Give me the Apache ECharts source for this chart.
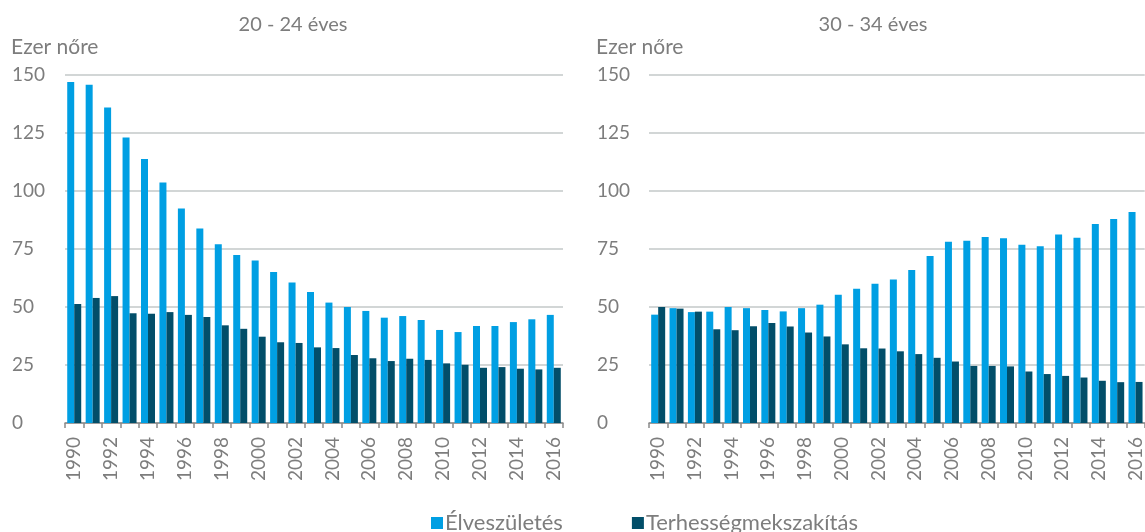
<!DOCTYPE html>
<html>
<head>
<meta charset="utf-8">
<script src="https://cdn.jsdelivr.net/npm/echarts@6/dist/echarts.min.js"></script>
<style>
	html, body { margin: 0; padding: 0; background: #fff; }
	#chart { width: 1145px; height: 532px; }
</style>
</head>
<body>
<div id="chart"></div>
<script>
const years = ['1990', '1991', '1992', '1993', '1994', '1995', '1996', '1997', '1998', '1999',
	'2000', '2001', '2002', '2003', '2004', '2005', '2006', '2007', '2008', '2009',
	'2010', '2011', '2012', '2013', '2014', '2015', '2016'];

// 20 - 24 éves
const births2024 = [147, 145.8, 136, 123.1, 113.8, 103.7, 92.5, 83.8, 77, 72.4,
	70, 65.1, 60.6, 56.5, 51.9, 50, 48.3, 45.4, 46.1, 44.4,
	40.1, 39.2, 41.8, 41.8, 43.5, 44.7, 46.6];
const abortions2024 = [51.3, 53.9, 54.7, 47.3, 47.1, 47.8, 46.6, 45.7, 42.1, 40.6,
	37.2, 34.8, 34.5, 32.6, 32.3, 29.3, 27.9, 26.7, 27.7, 27.2,
	25.7, 25.1, 23.8, 24.1, 23.4, 23.1, 23.8];

// 30 - 34 éves
const births3034 = [46.7, 49.5, 47.8, 48, 50, 49.5, 48.7, 48.1, 49.5, 51,
	55.3, 57.9, 60, 61.8, 66, 72, 78.1, 78.6, 80.2, 79.6,
	76.8, 76.2, 81.2, 79.9, 85.8, 87.9, 91];
const abortions3034 = [50, 49.3, 48, 40.4, 40, 41.7, 43.1, 41.6, 39, 37.3,
	33.9, 32.2, 32.1, 30.9, 29.7, 28.1, 26.5, 24.6, 24.6, 24.4,
	22.2, 21.1, 20.3, 19.6, 18.2, 17.6, 17.7];

const seriesNames = ['Élveszületés', 'Terhességmekszakítás'];
const panelTitles = ['20 - 24 éves', '30 - 34 éves'];
const unitLabel = 'Ezer nőre';

const FONT = 'Lato, "Noto Sans", sans-serif';
const GREY = '#7d7d7d';
const LIGHT = '#009fe3';
const DARK = '#024e69';

const chart = echarts.init(document.getElementById('chart'), null, { renderer: 'canvas' });

// title padding is 5px, so titles sit 5px left of where the text begins
const panels = [
	{ left: 65, title: 288, unit: 12 },
	{ left: 649, title: 868, unit: 597 }
];

const xAxis = panels.map((p, i) => ({
	type: 'category',
	gridIndex: i,
	data: years,
	axisLine: { lineStyle: { color: '#8a8a8a', width: 1.5 } },
	axisTick: { show: true, interval: 0, length: 5, lineStyle: { color: '#8a8a8a', width: 1.5 } },
	axisLabel: { interval: 1, rotate: 90, margin: 14, color: GREY, fontFamily: FONT, fontSize: 19 }
}));

const yAxis = panels.map((p, i) => ({
	type: 'value',
	gridIndex: i,
	min: 0,
	max: 150,
	interval: 25,
	axisLine: { show: false },
	axisTick: { show: false },
	axisLabel: { align: 'left', margin: p.left - p.unit, padding: [3, 0, 0, 0], color: GREY, fontFamily: FONT, fontSize: 19 },
	splitLine: { lineStyle: { color: '#c3c8c9', width: 1.5 } }
}));

const barSeries = (name, data, color, idx) => ({
	name,
	type: 'bar',
	xAxisIndex: idx,
	yAxisIndex: idx,
	data,
	barWidth: 7,
	barGap: '0%',
	itemStyle: { color },
	emphasis: { disabled: true }
});

chart.setOption({
	animation: false,
	title: panels.flatMap((p, i) => [
		{ text: panelTitles[i], left: p.title, top: 10, textAlign: 'center',
			textStyle: { color: GREY, fontFamily: FONT, fontSize: 20, fontWeight: 'normal' } },
		{ text: unitLabel, left: p.unit - 6, top: 32,
			textStyle: { color: GREY, fontFamily: FONT, fontSize: 21, fontWeight: 'normal' } }
	]),
	grid: panels.map(p => ({ left: p.left, top: 75, width: 498, height: 348 })),
	xAxis,
	yAxis,
	legend: {
		left: 426,
		top: 507,
		itemWidth: 12,
		itemHeight: 12,
		itemGap: 69,
		icon: 'rect',
		textStyle: { color: GREY, fontFamily: FONT, fontSize: 22, padding: [0, 0, 0, -3] },
		data: seriesNames
	},
	series: [
		barSeries(seriesNames[0], births2024, LIGHT, 0),
		barSeries(seriesNames[1], abortions2024, DARK, 0),
		barSeries(seriesNames[0], births3034, LIGHT, 1),
		barSeries(seriesNames[1], abortions3034, DARK, 1)
	]
});
</script>
</body>
</html>
